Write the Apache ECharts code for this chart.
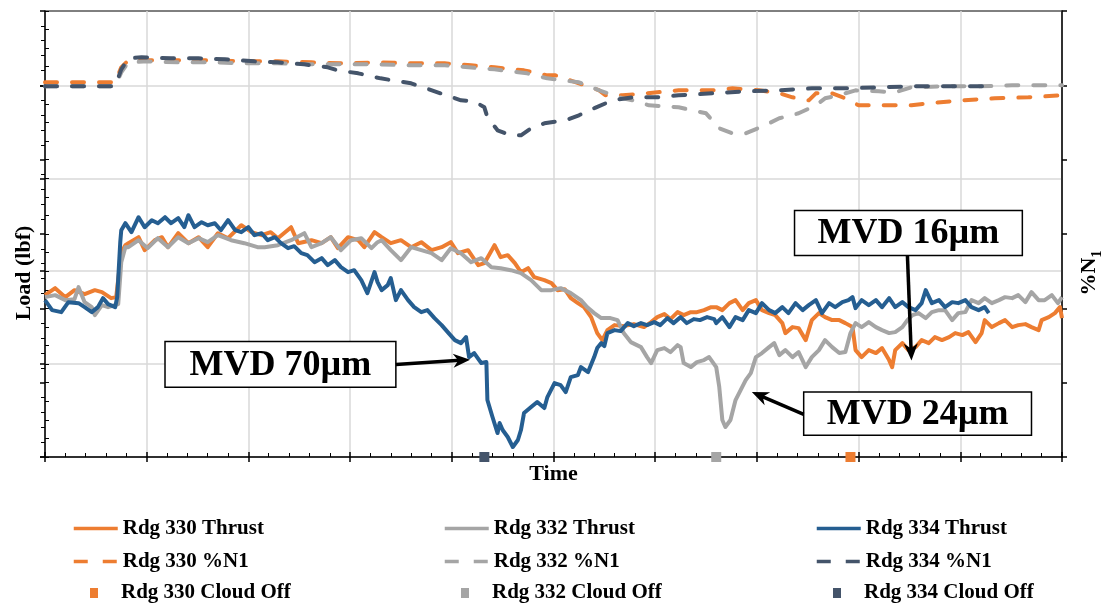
<!DOCTYPE html>
<html><head><meta charset="utf-8">
<script src="https://cdn.jsdelivr.net/npm/echarts@6/dist/echarts.min.js"></script>
<style>html,body{margin:0;padding:0;background:#fff}#c{width:1108px;height:603px}</style>
</head><body><div id="c"></div>
<script>
const FONT = "'Liberation Serif','Times New Roman',serif";

// Time (arbitrary units 0..10) vs Load (relative units) and %N1 (relative units)
const thrust330 = [[0,162],[0.1,169],[0.2,160],[0.29,167],[0.39,163],[0.49,167],[0.56,165],[0.65,159],[0.7,160],[0.75,205],[0.79,212],[0.82,214],[0.92,220],[0.98,207],[1.08,217],[1.15,220],[1.21,210],[1.31,224],[1.41,214],[1.51,220],[1.6,210],[1.7,224],[1.8,219],[1.93,232],[2.03,225],[2.13,222],[2.22,225],[2.29,219],[2.42,230],[2.49,214],[2.62,217],[2.72,214],[2.81,220],[2.88,209],[2.98,220],[3.08,217],[3.14,210],[3.24,225],
[3.31,220],[3.4,214],[3.5,217],[3.6,210],[3.7,215],[3.8,207],[3.9,210],[3.99,215],[4.06,204],[4.16,207],[4.26,192],[4.32,194],[4.42,212],[4.48,200],[4.55,202],[4.62,194],[4.68,185],[4.75,189],[4.81,180],[4.91,177],[4.98,174],[5.04,167],[5.11,168],[5.17,159],[5.24,154],[5.3,150],[5.37,140],[5.43,124],[5.48,117],[5.53,127],[5.6,132],[5.69,131],[5.79,133],[5.89,130],[5.96,135],[6.02,140],[6.09,143],[6.15,138],[6.22,145],[6.28,142],[6.35,145],[6.41,145],[6.48,147],[6.55,150],
[6.6,150],[6.66,147],[6.73,154],[6.79,157],[6.86,147],[6.92,154],[6.99,157],[7.05,147],[7.12,144],[7.18,142],[7.25,134],[7.28,124],[7.35,130],[7.41,129],[7.48,117],[7.54,137],[7.61,144],[7.67,140],[7.74,137],[7.81,137],[7.87,134],[7.94,130],[7.97,107],[8.03,100],[8.1,107],[8.17,104],[8.23,109],[8.3,97],[8.33,90],[8.36,107],[8.43,114],[8.49,107],[8.56,110],[8.62,117],[8.69,114],[8.75,120],[8.82,117],[8.89,120],[8.95,124],[9.02,122],[9.08,125],[9.15,115],[9.21,124],[9.24,137],[9.31,130],[9.38,134],[9.44,137],[9.51,130],[9.57,132],[9.64,133],[9.7,130],[9.77,127],[9.8,137],[9.87,140],[9.93,144],[9.98,150],[10,139]];

const thrust332 = [[0,160],[0.1,162],[0.2,157],[0.29,158],[0.33,170],[0.39,155],[0.46,150],[0.49,142],[0.56,152],[0.62,150],[0.69,152],[0.72,153],[0.75,195],[0.79,210],[0.82,210],[0.92,217],[1.01,209],[1.11,219],[1.21,210],[1.31,220],[1.41,214],[1.51,219],[1.6,215],[1.7,222],[1.83,217],[1.96,214],[2.09,210],[2.16,210],[2.29,212],[2.42,217],[2.55,224],[2.62,210],[2.72,214],[2.81,220],[2.91,207],[3.01,217],[3.11,219],[3.21,209],[3.27,215],
[3.31,217],[3.4,207],[3.5,197],[3.6,210],[3.7,207],[3.8,204],[3.9,197],[3.99,209],[4.09,204],[4.19,195],[4.29,199],[4.39,190],[4.48,189],[4.58,187],[4.68,184],[4.78,177],[4.88,167],[4.98,167],[5.07,169],[5.17,164],[5.27,157],[5.33,150],[5.4,144],[5.47,139],[5.56,139],[5.63,137],[5.69,124],[5.76,115],[5.86,110],[5.92,100],[5.96,94],[6.02,107],[6.09,109],[6.15,105],[6.22,112],[6.25,110],[6.28,94],[6.35,90],[6.41,95],[6.48,97],[6.53,100],
[6.6,90],[6.63,70],[6.66,37],[6.69,30],[6.74,37],[6.79,57],[6.84,67],[6.89,77],[6.94,84],[6.99,100],[7.05,104],[7.12,110],[7.17,114],[7.22,102],[7.28,107],[7.35,100],[7.41,105],[7.48,90],[7.54,100],[7.61,107],[7.67,117],[7.74,110],[7.81,104],[7.87,105],[7.92,124],[7.97,134],[8.03,130],[8.1,135],[8.17,130],[8.23,127],[8.3,124],[8.36,125],[8.43,130],[8.48,137],[8.53,142],[8.59,144],[8.66,139],[8.72,145],[8.79,147],[8.85,147],[8.92,137],[8.98,144],[9.05,145],[9.11,157],[9.18,154],[9.24,159],[9.31,154],[9.38,157],[9.44,160],[9.51,159],[9.57,162],[9.64,155],[9.7,165],[9.77,157],[9.83,157],[9.9,162],[9.96,154],[10,160]];

const thrust334 = [[0,157],[0.07,147],[0.16,145],[0.23,155],[0.33,154],[0.39,150],[0.46,145],[0.52,150],[0.57,159],[0.62,153],[0.69,150],[0.71,160],[0.74,215],[0.75,227],[0.79,234],[0.85,225],[0.92,240],[0.98,230],[1.05,237],[1.11,234],[1.18,240],[1.24,234],[1.31,239],[1.37,230],[1.41,242],[1.47,230],[1.54,235],[1.6,232],[1.67,234],[1.73,227],[1.8,237],[1.87,227],[1.93,225],[2.0,230],[2.06,222],[2.13,224],[2.19,217],[2.26,220],[2.32,214],[2.39,209],[2.45,211],[2.52,204],[2.58,202],[2.65,195],[2.72,199],[2.78,192],[2.85,197],[2.91,190],[2.98,185],[3.04,187],[3.11,177],[3.17,164],[3.24,185],[3.27,175],
[3.31,167],[3.37,172],[3.4,179],[3.45,157],[3.5,167],[3.57,157],[3.63,150],[3.7,145],[3.76,147],[3.83,139],[3.9,132],[3.96,125],[4.03,117],[4.09,114],[4.14,120],[4.17,100],[4.22,104],[4.29,94],[4.34,95],[4.35,57],[4.4,40],[4.45,24],[4.47,34],[4.5,27],[4.55,20],[4.6,10],[4.65,17],[4.68,27],[4.71,44],[4.78,50],[4.84,55],[4.91,49],[4.94,60],[5.01,74],[5.07,72],[5.12,65],[5.17,80],[5.24,82],[5.27,90],[5.34,85],[5.4,100],[5.43,109],[5.47,114],[5.5,111],[5.53,124],[5.6,127],[5.66,126],[5.73,134],[5.79,131],[5.86,134],[5.92,132],[5.99,135],[6.05,132],[6.12,139],[6.18,134],[6.25,140],[6.31,134],[6.38,138],[6.44,137],[6.51,140],[6.58,138],
[6.6,134],[6.66,140],[6.73,130],[6.79,140],[6.86,137],[6.92,147],[6.99,144],[7.05,154],[7.12,147],[7.18,144],[7.25,150],[7.31,144],[7.38,154],[7.45,147],[7.51,152],[7.58,157],[7.64,144],[7.71,154],[7.77,150],[7.84,155],[7.9,157],[7.94,160],[7.97,149],[8.03,157],[8.1,152],[8.17,157],[8.23,150],[8.3,159],[8.36,150],[8.43,155],[8.49,150],[8.56,147],[8.62,154],[8.66,167],[8.72,154],[8.79,157],[8.85,150],[8.92,155],[8.98,154],[9.05,157],[9.11,150],[9.18,147],[9.24,150],[9.28,144]];

const n1_330 = [[0,375],[0.69,375],[0.75,390],[0.82,397],[1.01,397],[1.31,397],[1.64,397],[1.96,396],[2.29,396],[2.62,395],[2.94,394],[3.27,395],[3.6,394],[3.93,394],[4.19,392],[4.42,390],[4.71,387],[4.94,382],[5.02,382],[5.25,374],[5.45,367],[5.51,362],[5.68,362],[5.91,364],[6.23,367],[6.56,367],[6.76,369],[7.02,367],[7.22,364],[7.35,360],[7.51,357],[7.58,364],[7.71,365],[7.87,359],[8.0,352],[8.2,352],[8.52,352],[8.69,354],[9.02,357],[9.34,359],[9.67,360],[10,362]];
const n1_332 = [[0,371],[0.69,371],[0.75,385],[0.82,395],[1.01,396],[1.31,395],[1.64,395],[1.96,394],[2.29,394],[2.62,393],[2.94,393],[3.27,393],[3.6,392],[3.93,392],[4.42,388],[4.74,384],[4.94,379],[5.25,375],[5.45,367],[5.68,359],[5.78,357],[5.94,352],[6.23,350],[6.5,344],[6.63,329],[6.76,324],[6.89,324],[7.08,332],[7.22,339],[7.41,344],[7.58,352],[7.67,359],[7.8,362],[7.97,367],[8.2,366],[8.36,365],[8.52,370],[8.85,371],[9.18,371],[9.51,372],[10,372]];
const n1_334 = [[0,371],[0.69,371],[0.75,388],[0.82,399],[0.95,400],[1.24,399],[1.51,399],[1.77,398],[2.06,396],[2.29,395],[2.55,393],[2.78,390],[2.88,387],[3.08,384],[3.3,379],[3.6,374],[3.86,365],[4.09,357],[4.22,356],[4.32,350],[4.35,340],[4.45,327],[4.58,322],[4.68,322],[4.78,329],[4.91,334],[5.12,337],[5.25,342],[5.42,350],[5.58,357],[5.78,360],[6.01,360],[6.23,362],[6.56,364],[6.89,366],[7.22,367],[7.54,369],[7.87,369],[8.2,370],[8.52,371],[8.85,371],[9.28,371]];

const cloudOff330 = [[7.92, 0]];
const cloudOff332 = [[6.60, 0]];
const cloudOff334 = [[4.32, 0]];

const names = {
  t330:'Rdg 330 Thrust', t332:'Rdg 332 Thrust', t334:'Rdg 334 Thrust',
  n330:'Rdg 330 %N1', n332:'Rdg 332 %N1', n334:'Rdg 334 %N1',
  c330:'Rdg 330 Cloud Off', c332:'Rdg 332 Cloud Off', c334:'Rdg 334 Cloud Off'
};
const C_OR = '#ED7D31', C_GR = '#A5A5A5', C_BL = '#255E91', C_SL = '#44546A';

const annotations = [
  {text:'MVD 70\u00B5m', box:[1.18,115.7,3.45,69.7], from:[3.45,92.7], to:[4.18,97.4]},
  {text:'MVD 16\u00B5m', box:[7.37,246.7,9.61,201.7], from:[8.48,201.7], to:[8.52,96.7]},
  {text:'MVD 24\u00B5m', box:[7.46,65,9.70,21.7], from:[7.46,42.7], to:[6.95,65]}
];

const Y_MAX = 446.4;
const axisBlack = {color:'#000', width:1.5};
const nameStyle = {fontFamily:FONT, fontWeight:'bold', fontSize:22, color:'#000'};

function lineSeries(name, data, color, yIdx, dashed){
  return {name, type:'line', xAxisIndex:0, yAxisIndex:yIdx, data, symbol:'none', showSymbol:false,
    lineStyle: dashed ? {color, width:4, type:[12,15], cap:'round', join:'round'} : {color, width:4, join:'round'},
    itemStyle:{color}, z: dashed ? 3 : 2, animation:false};
}
function cloudSeries(name, data, color){
  return {name, type:'scatter', xAxisIndex:0, yAxisIndex:0, data, symbol:'rect', symbolSize:10,
    itemStyle:{color, opacity:1}, clip:false, z:6, animation:false};
}

const legendTxt = {fontFamily:FONT, fontWeight:'bold', fontSize:21, color:'#000'};
const colLeft = [72, 443, 815];
const rowTop = [518, 551, 582.5];
const legendRows = [
  [names.t330, names.t332, names.t334],
  [names.n330, names.n332, names.n334],
  [names.c330, names.c332, names.c334]
];
const legendColors = [C_OR, C_GR, C_SL];
const noSymbol = {color:'rgba(0,0,0,0)', borderColor:'rgba(0,0,0,0)', borderWidth:0, opacity:0};
const legends = [];
legendRows.forEach((row, r) => {
  row.forEach((nm, c) => {
    if (r < 2) {
      legends.push({data:[nm], left:colLeft[c], top:rowTop[r], padding:0, itemWidth:44, itemHeight:14,
        selectedMode:false, textStyle:legendTxt, itemStyle:noSymbol,
        lineStyle: r === 0 ? {width:3.5, cap:'butt', type:'solid'} : {width:3.5, type:[14,15], cap:'butt'}});
    } else {
      legends.push({data:[{name:nm, icon:'rect'}], left:colLeft[c] + 18, top:rowTop[r], padding:0, itemWidth:8, itemHeight:10,
        selectedMode:false, itemStyle:{color:legendColors[c], opacity:1},
        textStyle:Object.assign({}, legendTxt, {padding:[0,0,0,18]})});
    }
  });
});

const chart = echarts.init(document.getElementById('c'), null, {renderer:'canvas'});
chart.setOption({
  animation:false,
  backgroundColor:'#fff',
  grid:{left:45, right:46, top:11, bottom:146, show:true, borderColor:'#000', borderWidth:1, backgroundColor:'transparent', containLabel:false, outerBoundsMode:'none'},
  legend: legends,
  xAxis:[
    {type:'value', position:'bottom', min:0, max:10, interval:1, name:'Time', nameLocation:'middle', nameGap:6, nameTextStyle:nameStyle,
     axisLine:{show:true, onZero:false, lineStyle:axisBlack}, axisTick:{show:true, inside:false, length:5, lineStyle:axisBlack},
     axisLabel:{show:false}, splitLine:{show:true, lineStyle:{color:'#D9D9D9', width:1.5}}, minorTick:{show:false}},
    {type:'value', position:'bottom', min:0, max:10, interval:1,
     axisLine:{show:false, onZero:false}, axisTick:{show:true, inside:true, length:5, lineStyle:axisBlack},
     minorTick:{show:true, splitNumber:5, length:4, lineStyle:{color:'#000', width:1}},
     axisLabel:{show:false}, splitLine:{show:false}}
  ],
  yAxis:[
    {type:'value', position:'left', min:0, max:Y_MAX, interval:93, name:'Load (lbf)', nameLocation:'middle', nameGap:10, nameRotate:90,
     nameTextStyle:Object.assign({}, nameStyle, {padding:[0,78,0,0]}),
     axisLine:{show:true, onZero:false, lineStyle:axisBlack}, axisTick:{show:true, inside:false, length:5, customValues:[0,93,186,279,372], lineStyle:axisBlack},
     axisLabel:{show:false}, splitLine:{show:true, lineStyle:{color:'#D9D9D9', width:1.5}}},
    {type:'value', position:'left', min:0, max:Y_MAX, interval:18.6,
     axisLine:{show:false}, axisTick:{show:true, inside:true, length:4, lineStyle:{color:'#000', width:1}},
     axisLabel:{show:false}, splitLine:{show:false}},
    {type:'value', position:'right', min:0, max:Y_MAX, interval:74.4, name:'%N{s|1}', nameLocation:'middle', nameGap:12, nameRotate:90,
     nameTextStyle:Object.assign({}, nameStyle, {padding:[0,78,0,0], lineHeight:30,
       rich:{s:{fontFamily:FONT, fontWeight:'bold', fontSize:14, color:'#000', verticalAlign:'bottom', lineHeight:30}}}),
     axisLine:{show:true, onZero:false, lineStyle:axisBlack}, axisTick:{show:true, inside:false, length:5, lineStyle:axisBlack},
     axisLabel:{show:false}, splitLine:{show:false}},
    {type:'value', position:'right', min:0, max:Y_MAX, interval:74.4,
     axisLine:{show:false}, axisTick:{show:true, inside:true, length:5, lineStyle:axisBlack},
     minorTick:{show:true, splitNumber:5, length:4, lineStyle:{color:'#000', width:1}},
     axisLabel:{show:false}, splitLine:{show:false}}
  ],
  series:[
    lineSeries(names.t330, thrust330, C_OR, 0, false),
    lineSeries(names.t332, thrust332, C_GR, 0, false),
    lineSeries(names.t334, thrust334, C_BL, 0, false),
    lineSeries(names.n330, n1_330, C_OR, 2, true),
    lineSeries(names.n332, n1_332, C_GR, 2, true),
    lineSeries(names.n334, n1_334, C_SL, 2, true),
    cloudSeries(names.c330, cloudOff330, C_OR),
    cloudSeries(names.c332, cloudOff332, C_GR),
    cloudSeries(names.c334, cloudOff334, C_SL)
  ]
});

// Annotation boxes and arrows, placed from data coordinates
const toPx = p => chart.convertToPixel({xAxisIndex:0, yAxisIndex:0}, p);
const graphics = [];
annotations.forEach(a => {
  const p1 = toPx([a.box[0], a.box[1]]), p2 = toPx([a.box[2], a.box[3]]);
  const x = Math.min(p1[0], p2[0]), y = Math.min(p1[1], p2[1]);
  const w = Math.abs(p2[0]-p1[0]), h = Math.abs(p2[1]-p1[1]);
  graphics.push({type:'rect', z:100, shape:{x, y, width:w, height:h}, style:{fill:'#fff', stroke:'#000', lineWidth:1.5}});
  graphics.push({type:'text', z:101, style:{text:a.text, x:x + w/2, y:y + h/2 + 1, fill:'#000', fontFamily:FONT, fontWeight:'bold', fontSize:36, align:'center', verticalAlign:'middle'}});
  const s = toPx(a.from), t = toPx(a.to);
  const dx = t[0]-s[0], dy = t[1]-s[1], L = Math.hypot(dx, dy);
  const ux = dx/L, uy = dy/L, px = -uy, py = ux;
  const hl = 17, hw = 7;
  const bx = t[0]-ux*hl, by = t[1]-uy*hl;
  graphics.push({type:'line', z:100, shape:{x1:s[0], y1:s[1], x2:t[0]-ux*hl*0.6, y2:t[1]-uy*hl*0.6}, style:{stroke:'#000', lineWidth:3.5}});
  graphics.push({type:'polygon', z:100, shape:{points:[[t[0],t[1]],[bx+px*hw, by+py*hw],[t[0]-ux*hl*0.7, t[1]-uy*hl*0.7],[bx-px*hw, by-py*hw]]}, style:{fill:'#000'}});
});
chart.setOption({graphic:graphics});
</script>
</body></html>
